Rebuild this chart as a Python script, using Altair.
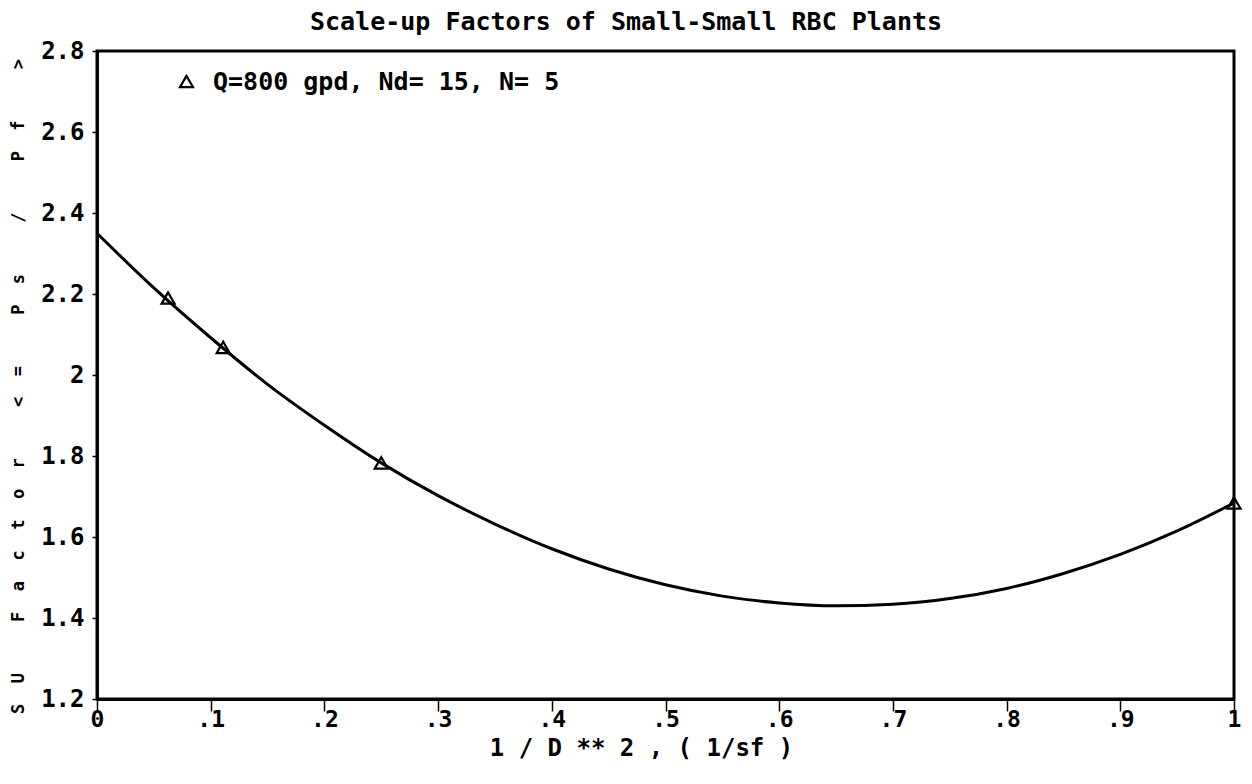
import altair as alt
import pandas as pd

# ---- data ----
curve_x = [0.00, 0.05, 0.10, 0.15, 0.20, 0.25, 0.30, 0.35, 0.40, 0.45, 0.50,
           0.55, 0.60, 0.65, 0.70, 0.75, 0.80, 0.85, 0.90, 0.95, 1.00]
curve_y = [2.350, 2.215, 2.092, 1.977, 1.876, 1.783, 1.702, 1.632, 1.571, 1.521, 1.482,
           1.454, 1.437, 1.430, 1.434, 1.448, 1.473, 1.510, 1.557, 1.615, 1.684]

pt_x = [0.0625, 0.111, 0.25, 1.0]
pt_y = [2.190, 2.068, 1.783, 1.684]

series_label = "Q=800 gpd, Nd= 15, N= 5"
x_ticks = [0, 0.1, 0.2, 0.3, 0.4, 0.5, 0.6, 0.7, 0.8, 0.9, 1.0]
y_ticks = [1.2, 1.4, 1.6, 1.8, 2.0, 2.2, 2.4, 2.6, 2.8]

title_text = "Scale-up Factors of Small-Small RBC Plants"
x_title = "1 / D ** 2 , ( 1/sf )"
y_title_raw = "SU Factor <= Ps / Pf >"

NB = "\u00a0"
y_title = (NB * 2).join(ch if ch != " " else NB for ch in y_title_raw)

FONT = "DejaVu Sans Mono"

curve_df = pd.DataFrame({"x": curve_x, "y": curve_y})
pts_df = pd.DataFrame({"x": pt_x, "y": pt_y, "series": [series_label] * len(pt_x)})
title_df = pd.DataFrame({"t": [title_text]})

xscale = alt.Scale(domain=[0, 1], nice=False, zero=False)
yscale = alt.Scale(domain=[1.2, 2.8], nice=False, zero=False)

xaxis = alt.Axis(
    values=x_ticks,
    labelExpr="datum.value == 0 ? '0' : (datum.value == 1 ? '1' : replace(format(datum.value, '.1f'), '0.', '.'))",
    title=x_title, titleX=544, titleY=56, titleBaseline="alphabetic", titleAlign="center",
    tickSize=12, tickWidth=1.5, labelPadding=-3, labelFlush=False, grid=False,
    labelFontSize=23,
)
yaxis = alt.Axis(
    values=y_ticks,
    labelExpr="datum.value == 2 ? '2' : format(datum.value, '.1f')",
    title=y_title, titleAngle=-90, titleX=-79, titleY=335, titleAlign="center",
    titleBaseline="middle", titleFontSize=17,
    tickSize=5, tickWidth=1.5, labelPadding=8, labelFlush=False, grid=False,
)

line = alt.Chart(curve_df).mark_line(color="black", strokeWidth=3, interpolate="monotone").encode(
    x=alt.X("x:Q", scale=xscale, axis=xaxis),
    y=alt.Y("y:Q", scale=yscale, axis=yaxis),
)

points = alt.Chart(pts_df).mark_point(
    filled=False, color="black", strokeWidth=2.2, size=170, opacity=1, clip=False
).encode(
    x=alt.X("x:Q", scale=xscale),
    y=alt.Y("y:Q", scale=yscale),
    shape=alt.Shape("series:N", scale=alt.Scale(range=["triangle-up"]),
                    legend=alt.Legend(title=None, orient="none", legendX=77, legendY=18,
                                      symbolStrokeColor="black",
                                      symbolStrokeWidth=2.2, symbolSize=170, labelOffset=14,
                                      labelFont=FONT, labelFontSize=25, labelFontWeight="bold",
                                      labelColor="black", labelLimit=600)),
)

title = alt.Chart(title_df).mark_text(
    font=FONT, fontSize=25, fontWeight="bold", color="black",
    align="center", baseline="alphabetic",
).encode(text="t:N", x=alt.value(529), y=alt.value(-21))

chart = (line + points + title).properties(
    width=1137, height=648,
    autosize=alt.AutoSizeParams(type="none"),
    padding={"left": 89, "top": 43, "right": 10, "bottom": 75},
).configure_view(
    stroke="black", strokeWidth=3
).configure_axis(
    domainColor="black", domainWidth=3, tickColor="black",
    labelFont=FONT, labelFontSize=24, labelFontWeight="bold", labelColor="black",
    titleFont=FONT, titleFontSize=24, titleFontWeight="bold", titleColor="black",
)

chart.save("out.html", embed_options={"renderer": "svg", "actions": False})
